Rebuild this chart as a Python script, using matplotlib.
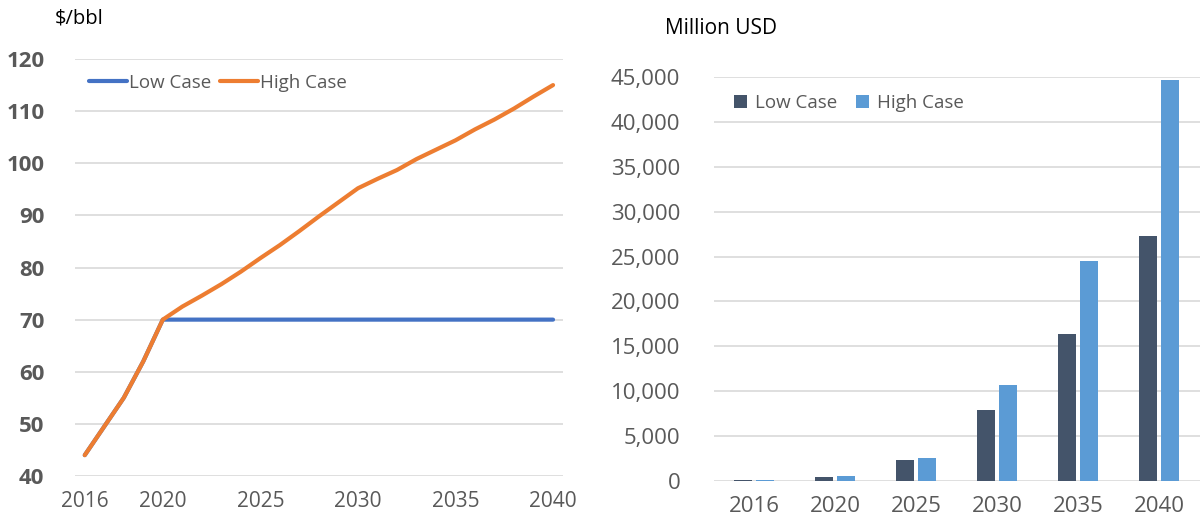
import numpy as np
import matplotlib
matplotlib.use('Agg')
import matplotlib.pyplot as plt

# oil price path, $/bbl
years = list(range(2016, 2041))
low_price = [44, 49.5, 55, 62, 70] + [70] * 20
high_price = [44, 49.5, 55, 62, 70, 72.5, 74.6, 76.8, 79.2, 81.8, 84.3, 87, 89.8, 92.5, 95.2,
              97, 98.7, 100.8, 102.6, 104.4, 106.5, 108.4, 110.5, 112.8, 115]
price_ticks = [2016, 2020, 2025, 2030, 2035, 2040]

# revenue, million USD
bar_years = ['2016', '2020', '2025', '2030', '2035', '2040']
low_rev = [100, 500, 2300, 7900, 16400, 27300]
high_rev = [100, 550, 2600, 10700, 24500, 44700]

plt.rcParams['font.family'] = ['Open Sans', 'DejaVu Sans']
grey = '#595959'
grid_c = '#D9D9D9'

fig = plt.figure(figsize=(12, 5.27), dpi=100)

# left: price lines
ax1 = fig.add_axes([0.0625, 0.0968, 0.4065, 0.7912])
ax1.plot(years, low_price, color='#4472C4', lw=3, solid_capstyle='round', label='Low Case')
ax1.plot(years, high_price, color='#ED7D31', lw=3, solid_capstyle='round', label='High Case')
ax1.set_xlim(2015.5, 2040.5)
ax1.set_ylim(40, 120)
ax1.set_yticks(range(40, 121, 10))
ax1.set_xticks(price_ticks)
ax1.grid(axis='y', color=grid_c, lw=1.2)
ax1.set_axisbelow(True)
for s in ax1.spines.values():
    s.set_visible(False)
ax1.tick_params(length=0, colors=grey, labelsize=15)
ax1.tick_params(axis='y', pad=22, labelsize=16)
ax1.tick_params(axis='x', pad=11)
for t in ax1.get_yticklabels():
    t.set_fontweight('bold')
ax1.legend(loc='upper left', bbox_to_anchor=(-0.005, 1.005), ncol=2, frameon=False, fontsize=13.5,
           labelcolor=grey, handlelength=2.0, handletextpad=0.1, columnspacing=0.5)
fig.text(0.046, 0.965, '$/bbl', fontsize=14.5, color='black', va='center')

# right: revenue bars
ax2 = fig.add_axes([0.5946, 0.0873, 0.405, 0.7667])
x = np.arange(len(bar_years))
w = 0.225
ax2.bar(x - 0.1375, low_rev, w, color='#44546A', label='Low Case')
ax2.bar(x + 0.1375, high_rev, w, color='#5B9BD5', label='High Case')
ax2.set_xlim(-0.5, len(bar_years) - 0.5)
ax2.set_ylim(0, 45000)
ax2.set_yticks(range(0, 45001, 5000))
ax2.yaxis.set_major_formatter(matplotlib.ticker.StrMethodFormatter('{x:,.0f}'))
ax2.set_xticks(x)
ax2.set_xticklabels(bar_years)
ax2.grid(axis='y', color=grid_c, lw=1.2)
ax2.set_axisbelow(True)
for s in ax2.spines.values():
    s.set_visible(False)
ax2.tick_params(length=0, colors=grey, labelsize=16)
ax2.tick_params(axis='y', pad=24)
ax2.tick_params(axis='x', pad=11)
ax2.legend(loc='upper left', bbox_to_anchor=(0.008, 1.0), ncol=2, frameon=False, fontsize=13.5,
           labelcolor=grey, handlelength=0.7, handleheight=0.7, handletextpad=0.4, columnspacing=1.0)
fig.text(0.554, 0.945, 'Million USD', fontsize=15, color='black', va='center')

fig.savefig('out.png', dpi=100)
